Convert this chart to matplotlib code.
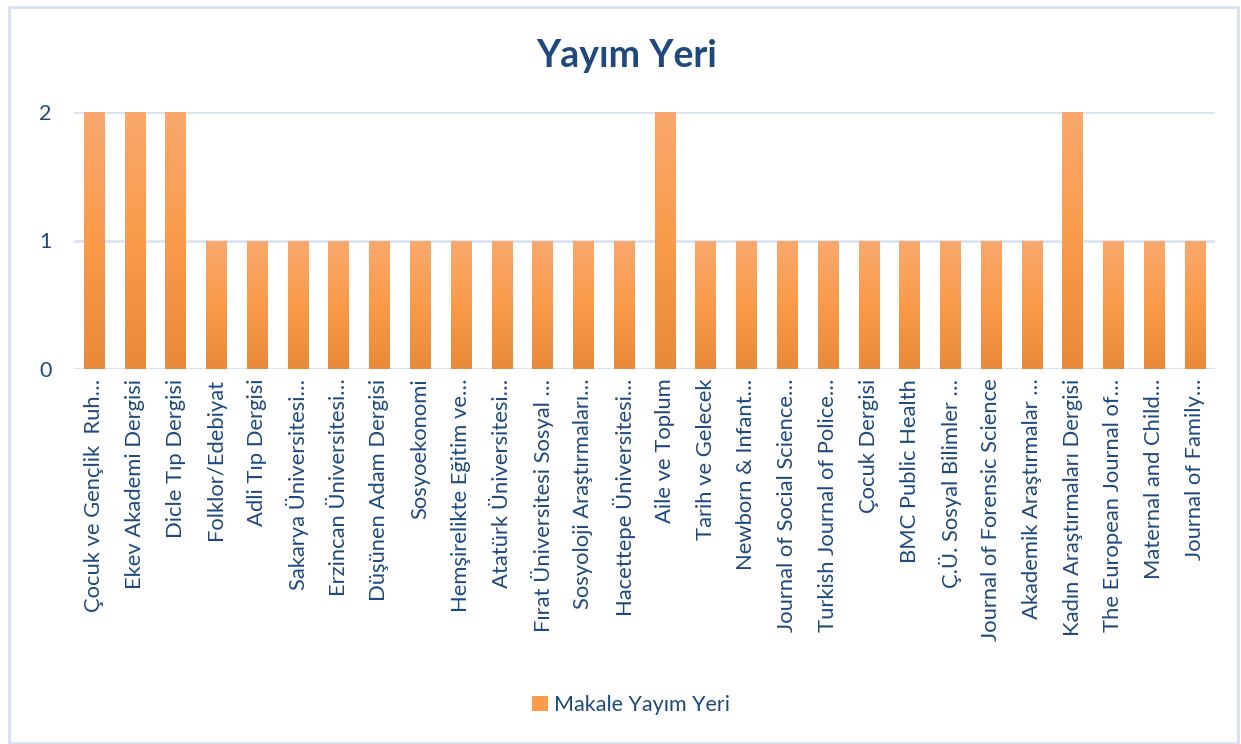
import matplotlib
matplotlib.use("Agg")
import matplotlib.pyplot as plt
import numpy as np
from matplotlib.patches import Rectangle, Patch
from matplotlib.colors import LinearSegmentedColormap

categories = [
    "Çocuk ve Gençlik  Ruh…", "Ekev Akademi Dergisi", "Dicle Tıp Dergisi",
    "Folklor/Edebiyat", "Adli Tıp Dergisi", "Sakarya Üniversitesi…",
    "Erzincan Üniversitesi…", "Düşünen Adam Dergisi", "Sosyoekonomi",
    "Hemşirelikte Eğitim ve…", "Atatürk Üniversitesi…", "Fırat Üniversitesi Sosyal …",
    "Sosyoloji Araştırmaları…", "Hacettepe Üniversitesi…", "Aile ve Toplum",
    "Tarih ve Gelecek", "Newborn & Infant…", "Journal of Social Science…",
    "Turkish Journal of Police…", "Çocuk Dergisi", "BMC Public Health",
    "Ç.Ü. Sosyal Bilimler …", "Journal of Forensic Science", "Akademik Araştırmalar …",
    "Kadın Araştırmaları Dergisi", "The European Journal of…", "Maternal and Child…",
    "Journal of Family…",
]
values = [2, 2, 2, 1, 1, 1, 1, 1, 1, 1, 1, 1, 1, 1, 2,
          1, 1, 1, 1, 1, 1, 1, 1, 1, 2, 1, 1, 1]
yticks = [0, 1, 2]
series_name = "Makale Yayım Yeri"
title = "Yayım Yeri"

plt.rcParams['font.family'] = ['Lato', 'DejaVu Sans']
text_color = '#1F497D'
grid_color = '#D9E3F1'

W, H = 1241, 744
fig = plt.figure(figsize=(W / 100, H / 100), dpi=100)
fig.patch.set_facecolor('white')

# outer chart border
fig.patches.append(Rectangle((8.5 / W, 1 - 742.5 / H), (1238 - 8.5) / W, (742.5 - 6.5) / H,
                             transform=fig.transFigure, fill=False,
                             edgecolor='#D6E1F0', linewidth=2))

left, right, top, bottom = 73.6, 1215.4, 112, 369
ax = fig.add_axes([left / W, 1 - bottom / H, (right - left) / W, (bottom - top) / H])

x = np.arange(len(categories))
bars = ax.bar(x, values, width=0.5, color='#F9A05A', zorder=2, label=series_name)

cmap = LinearSegmentedColormap.from_list('g', ['#E98A3A', '#F99B4A', '#F9A86E'])
grad = np.linspace(0, 1, 256).reshape(-1, 1)
for b in bars:
    bx, by = b.get_x(), b.get_y()
    bw, bh = b.get_width(), b.get_height()
    im = ax.imshow(grad, cmap=cmap, aspect='auto', origin='lower',
                   extent=(bx, bx + bw, by, by + bh), zorder=3)
    im.set_clip_path(b)
    b.set_facecolor('none')
ax.set_xlim(-0.5, len(categories) - 0.5)
ax.set_ylim(0, 2)

ax.set_yticks(yticks)
ax.set_yticklabels([str(v) for v in yticks], fontsize=15.5, color=text_color)
ax.set_xticks(x)
ax.set_xticklabels(categories, rotation=90, fontsize=15.8, color=text_color)
ax.tick_params(axis='both', length=0)
ax.tick_params(axis='y', pad=16)
ax.tick_params(axis='x', pad=7)
for s in ax.spines.values():
    s.set_visible(False)
ax.grid(axis='y', color=grid_color, linewidth=2, zorder=1)
ax.axhline(0, color=grid_color, linewidth=2, zorder=1)
ax.set_axisbelow(True)

fig.text(627 / W, 1 - 56 / H, title, ha='center', va='center',
         fontsize=27, fontweight='bold', color=text_color)

handle = Patch(facecolor='#F99B4A', edgecolor='none')
fig.legend([handle], [series_name], loc='center', bbox_to_anchor=(631 / W, 1 - 705 / H),
           frameon=False, fontsize=15.5, labelcolor=text_color,
           handlelength=0.75, handleheight=0.75, handletextpad=0.3)

fig.savefig('out.png', dpi=100, facecolor='white')
